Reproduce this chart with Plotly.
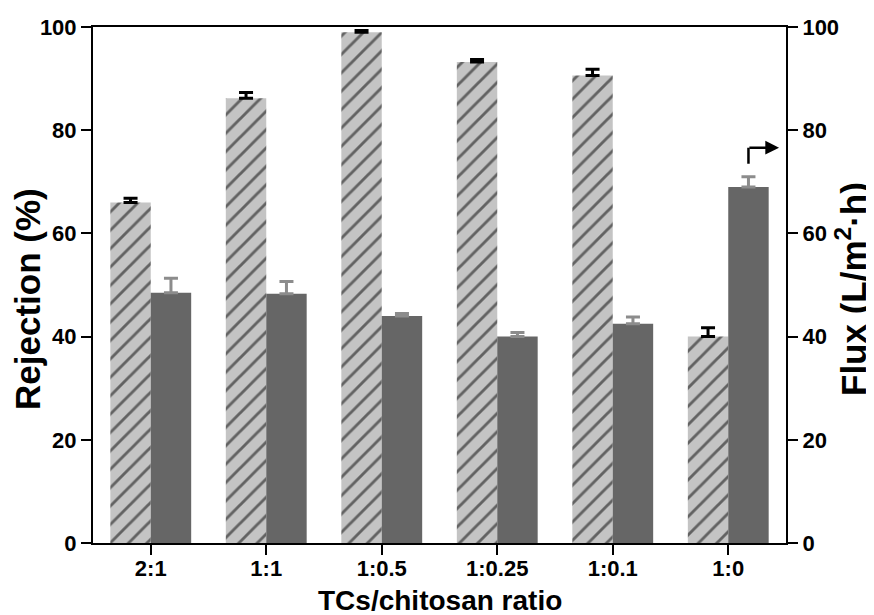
import plotly.graph_objects as go

categories = ["2:1", "1:1", "1:0.5", "1:0.25", "1:0.1", "1:0"]
rejection = [66.0, 86.2, 99.0, 93.2, 90.6, 40.0]
rejection_err = [0.8, 1.1, 0.3, 0.5, 1.2, 1.7]
flux = [48.5, 48.3, 44.0, 40.0, 42.5, 69.0]
flux_err = [2.8, 2.4, 0.5, 0.8, 1.3, 2.0]
yticks = [0, 20, 40, 60, 80, 100]

xs = list(range(len(categories)))
FONT = "Liberation Sans, Arial, sans-serif"

fig = go.Figure()
fig.add_trace(go.Bar(
    x=xs, y=rejection, width=0.35, offset=-0.35, yaxis="y",
    marker=dict(color="#c4c4c4", line=dict(width=0),
                pattern=dict(shape="/", fgcolor="black", bgcolor="#c4c4c4", size=13, solidity=0.22)),
    error_y=dict(type="data", array=rejection_err, arrayminus=[0]*6, color="black", thickness=3, width=7),
    showlegend=False,
))
fig.add_trace(go.Bar(
    x=xs, y=flux, width=0.35, offset=0.0, yaxis="y2",
    marker=dict(color="#666666", line=dict(width=0)),
    error_y=dict(type="data", array=flux_err, arrayminus=[0]*6, color="#8c8c8c", thickness=3, width=7),
    showlegend=False,
))

# arrow indicating flux axis
fig.add_shape(type="line", xref="x", yref="y2", x0=5.175, x1=5.175, y0=73.5, y1=76.6,
              line=dict(color="black", width=2.5))
fig.add_annotation(xref="x", yref="y2", axref="x", ayref="y2",
                   x=5.44, y=76.6, ax=5.17, ay=76.6, text="", showarrow=True,
                   arrowhead=2, arrowsize=1.1, arrowwidth=2.5, arrowcolor="black")

# axis titles
fig.add_annotation(xref="paper", yref="paper", x=0, y=0.5, xshift=-66, yshift=-14, textangle=-90,
                   xanchor="center", yanchor="middle", showarrow=False,
                   text="<b>Rejection (%)</b>", font=dict(family=FONT, size=35, color="black"))
fig.add_annotation(xref="paper", yref="paper", x=1, y=0.5, xshift=65, yshift=-4, textangle=-90,
                   xanchor="center", yanchor="middle", showarrow=False,
                   text="<b>Flux (L/m<sup>2</sup>·h)</b>", font=dict(family=FONT, size=35, color="black"))
fig.add_annotation(xref="paper", yref="paper", x=0.5, y=0, yshift=-57,
                   xanchor="center", yanchor="middle", showarrow=False,
                   text="<b>TCs/chitosan ratio</b>", font=dict(family=FONT, size=28, color="black"))

axis_common = dict(showline=True, linecolor="black", linewidth=2, ticks="outside",
                   tickwidth=2, ticklen=10, tickcolor="black", showgrid=False, zeroline=False,
                   automargin=False,
                   tickfont=dict(family=FONT, size=22, color="black"))

fig.update_layout(
    width=866, height=607,
    margin=dict(l=85, r=88, t=19, b=72),
    plot_bgcolor="white", paper_bgcolor="white",
    font=dict(family=FONT, color="black"),
    xaxis=dict(range=[-0.5, 5.5], tickvals=xs, ticktext=["<b>%s</b>" % c for c in categories],
               mirror=True, ticklabelstandoff=-5, **axis_common),
    yaxis=dict(range=[0, 100], tickvals=yticks,
               ticktext=["<b>%d</b>" % v for v in yticks], **axis_common),
    yaxis2=dict(range=[0, 100], overlaying="y", side="right", tickvals=yticks,
                ticktext=["<b>%d</b>" % v for v in yticks], **axis_common),
)
fig.write_html("out.html")
